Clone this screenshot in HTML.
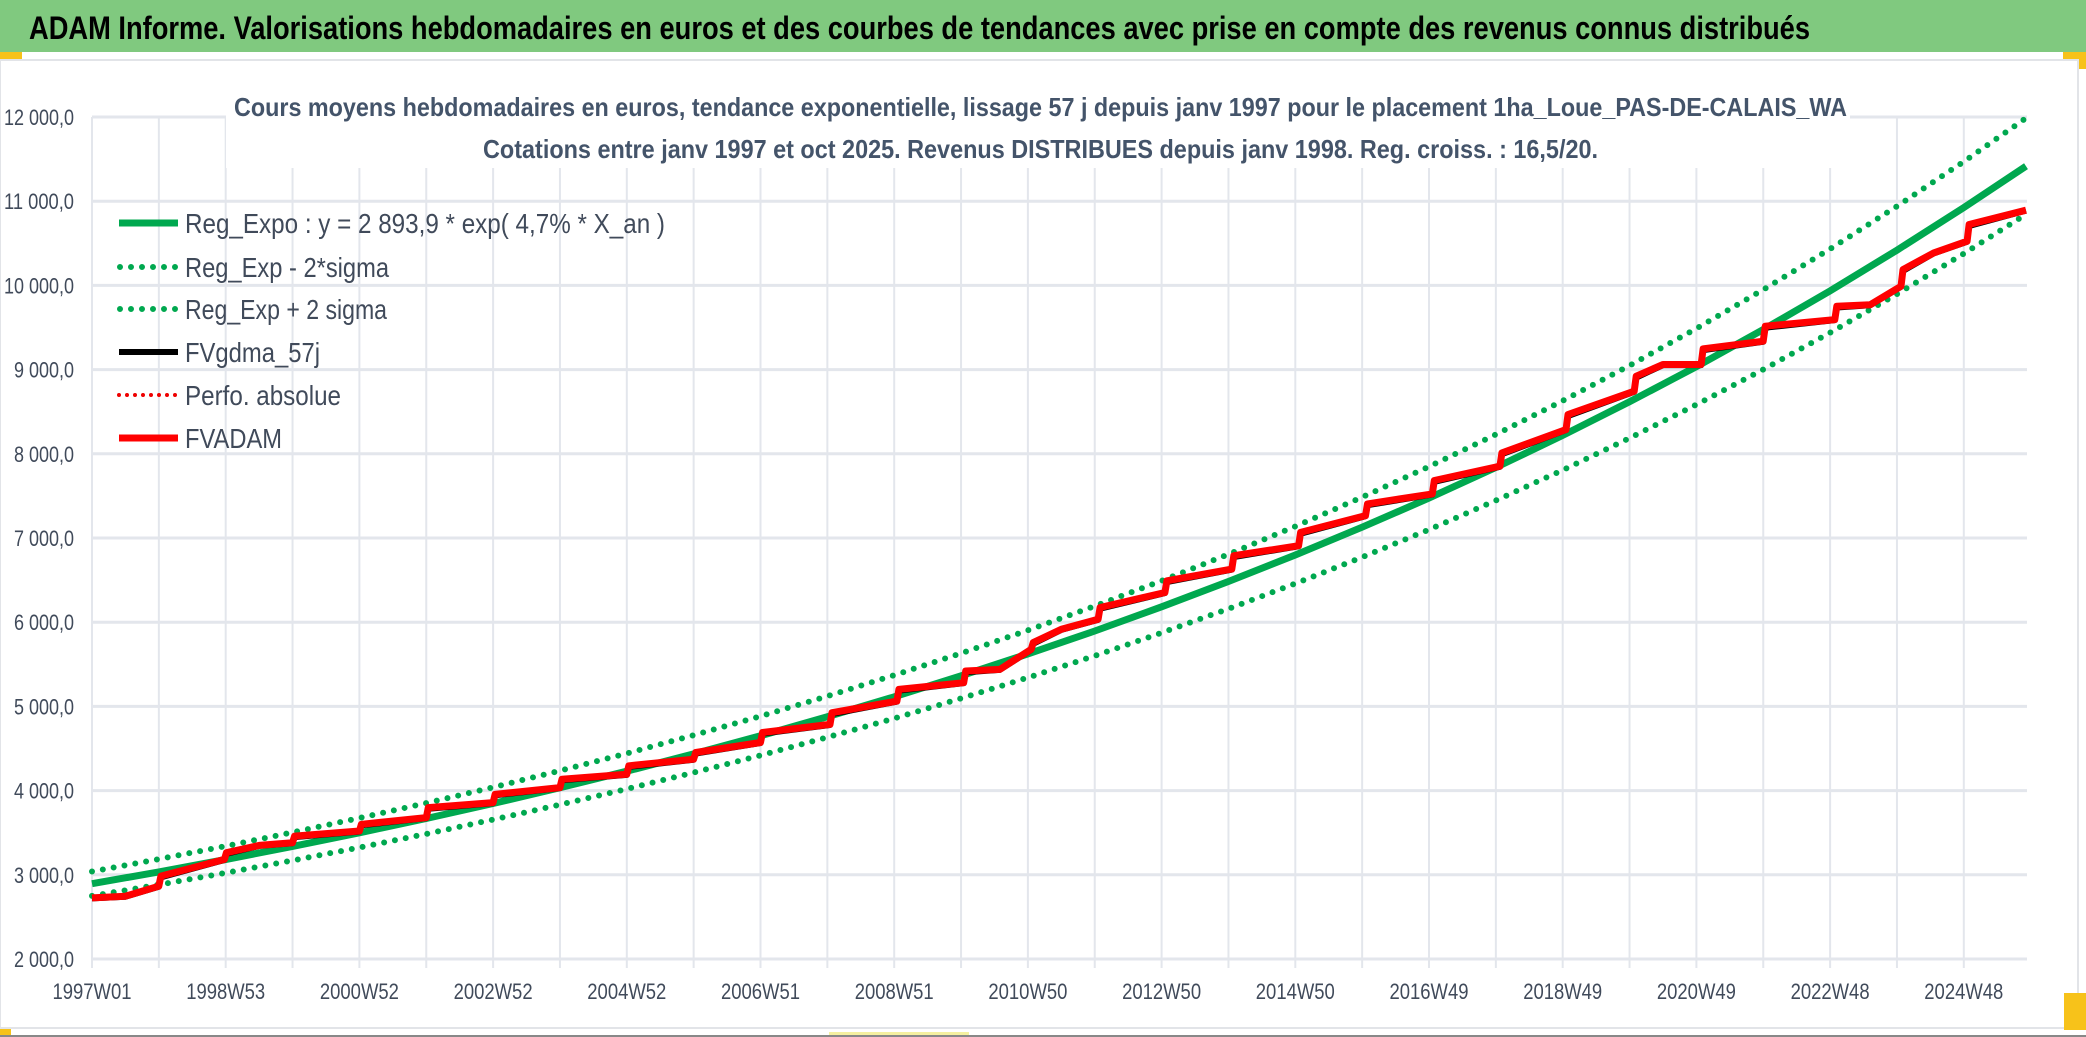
<!DOCTYPE html>
<html><head><meta charset="utf-8"><style>
html,body{margin:0;padding:0;background:#fff;}
svg{display:block;}
text{font-family:"Liberation Sans",sans-serif;}
</style></head><body>
<svg id="chart" width="2086" height="1037" viewBox="0 0 2086 1037" xmlns="http://www.w3.org/2000/svg">
<rect x="0" y="0" width="2086" height="52" fill="#80c97f"/>
<text x="29" y="39" font-size="32" font-weight="bold" fill="#000" textLength="1781" lengthAdjust="spacingAndGlyphs">ADAM Informe. Valorisations hebdomadaires en euros et des courbes de tendances avec prise en compte des revenus connus distribués</text>
<rect x="0" y="52" width="22" height="8" fill="#f7c21a"/>
<rect x="2063" y="52" width="23" height="17" fill="#f7c21a"/>
<rect x="0" y="60" width="2078" height="968" fill="#fff" stroke="#e2e4e8" stroke-width="2"/>
<rect x="2064" y="993" width="22" height="37" fill="#f7c21a"/>
<rect x="0" y="1029" width="11" height="8" fill="#f7c21a"/>
<rect x="829" y="1032" width="140" height="5" fill="#f5f0a0"/>
<line x1="0" y1="1036" x2="2086" y2="1036" stroke="#888" stroke-width="2"/>
<g id="grid"></g>
<rect x="226" y="61" width="1624" height="107" fill="#fff"/>
<text x="234" y="116" font-size="26" font-weight="bold" fill="#44546a" textLength="1613" lengthAdjust="spacingAndGlyphs">Cours moyens hebdomadaires en euros, tendance exponentielle, lissage 57 j depuis janv 1997 pour le placement 1ha_Loue_PAS-DE-CALAIS_WA</text>
<text x="483" y="158" font-size="26" font-weight="bold" fill="#44546a" textLength="1115" lengthAdjust="spacingAndGlyphs">Cotations entre janv 1997 et oct 2025. Revenus DISTRIBUES depuis janv 1998. Reg. croiss. : 16,5/20.</text>
<g id="axes"></g>
<g id="series"></g>
<g id="legend">
 <line x1="119" y1="223" x2="178" y2="223" stroke="#00a84f" stroke-width="7"/>
 <text x="185" y="233" font-size="28" fill="#404a5a" textLength="480" lengthAdjust="spacingAndGlyphs">Reg_Expo : y = 2 893,9 * exp( 4,7% *  X_an )</text>
 <line x1="120" y1="267" x2="178" y2="267" stroke="#00a84f" stroke-width="6" stroke-linecap="round" stroke-dasharray="0 11"/>
 <text x="185" y="277" font-size="28" fill="#404a5a" textLength="204" lengthAdjust="spacingAndGlyphs">Reg_Exp - 2*sigma</text>
 <line x1="120" y1="309" x2="178" y2="309" stroke="#00a84f" stroke-width="6" stroke-linecap="round" stroke-dasharray="0 11"/>
 <text x="185" y="319" font-size="28" fill="#404a5a" textLength="202" lengthAdjust="spacingAndGlyphs">Reg_Exp + 2 sigma</text>
 <line x1="119" y1="352" x2="178" y2="352" stroke="#000" stroke-width="6"/>
 <text x="185" y="362" font-size="28" fill="#404a5a" textLength="135" lengthAdjust="spacingAndGlyphs">FVgdma_57j</text>
 <line x1="119" y1="395" x2="178" y2="395" stroke="#e00" stroke-width="4" stroke-linecap="round" stroke-dasharray="0 8"/>
 <text x="185" y="405" font-size="28" fill="#404a5a" textLength="156" lengthAdjust="spacingAndGlyphs">Perfo. absolue</text>
 <line x1="119" y1="438" x2="178" y2="438" stroke="#f00" stroke-width="7"/>
 <text x="185" y="448" font-size="28" fill="#404a5a" textLength="97" lengthAdjust="spacingAndGlyphs">FVADAM</text>
</g>
</svg>
<script>
const yTicks = [2000,3000,4000,5000,6000,7000,8000,9000,10000,11000,12000];
const yTickLabels = ["2 000,0","3 000,0","4 000,0","5 000,0","6 000,0","7 000,0","8 000,0","9 000,0","10 000,0","11 000,0","12 000,0"];
const xTickLabels = ["1997W01","1998W53","2000W52","2002W52","2004W52","2006W51","2008W51","2010W50","2012W50","2014W50","2016W49","2018W49","2020W49","2022W48","2024W48"];
const regYears = [1997,1998,1999,2000,2001,2002,2003,2004,2005,2006,2007,2008,2009,2010,2011,2012,2013,2014,2015,2016,2017,2018,2019,2020,2021,2022,2023,2024,2025,2025.93];
const regExpo = [2894,3035,3182,3337,3499,3669,3847,4034,4230,4436,4651,4877,5114,5363,5623,5896,6183,6483,6798,7128,7474,7837,8218,8617,9036,9475,9935,10418,10924,11416];
const regMinus = [2749,2883,3023,3170,3324,3486,3655,3832,4019,4214,4418,4633,4858,5095,5342,5601,5874,6159,6458,6772,7100,7445,7807,8186,8584,9001,9438,9897,10378,10845];
const regPlus = [3039,3187,3341,3504,3674,3852,4039,4236,4442,4658,4884,5121,5370,5631,5904,6191,6492,6807,7138,7484,7848,8229,8629,9048,9488,9949,10432,10939,11470,11987];
const fvYears = [1997.0,1997.5,1998.0,1998.03,1998.98,1999.01,1999.5,2000.0,2000.03,2001.0,2001.03,2002.0,2002.03,2003.0,2003.03,2004.0,2004.03,2005.0,2005.03,2006.0,2006.03,2007.0,2007.03,2008.04,2008.07,2009.04,2009.07,2010.04,2010.07,2010.58,2011.05,2011.08,2011.5,2012.05,2012.08,2013.05,2013.08,2014.05,2014.08,2015.05,2015.08,2016.05,2016.08,2017.05,2017.08,2018.06,2018.09,2019.05,2019.08,2020.07,2020.1,2020.5,2021.07,2021.1,2022.0,2022.03,2023.07,2023.1,2023.6,2024.06,2024.09,2024.55,2025.05,2025.08,2025.93];
const fvadam = [2726,2746,2865,2984,3183,3262,3349,3381,3460,3520,3600,3679,3798,3857,3956,4036,4135,4194,4294,4373,4452,4571,4690,4786,4925,5063,5202,5282,5421,5440,5678,5758,5916,6036,6175,6353,6492,6631,6790,6909,7067,7266,7405,7524,7683,7853,8011,8288,8466,8743,8922,9060,9060,9246,9337,9515,9594,9753,9771,9990,10188,10386,10525,10723,10893];
const fvgdma = [2720,2740,2858,2970,3176,3250,3343,3375,3448,3513,3588,3672,3785,3850,3944,4029,4122,4187,4282,4366,4440,4564,4677,4779,4910,5056,5188,5275,5406,5433,5670,5744,5909,6029,6160,6346,6477,6624,6774,6902,7051,7259,7389,7517,7667,7846,7995,8281,8449,8736,8905,9053,9053,9230,9330,9498,9587,9737,9764,9983,10171,10380,10518,10706,10888];

const NS = "http://www.w3.org/2000/svg";
const X0 = 92, PX_PER_YEAR = 66.85, Y0 = 959, PX_PER_1000 = 84.2, XR = 2027;
function xs(year){ return X0 + (year - 1997) * PX_PER_YEAR; }
function ys(v){ return Y0 - (v - 2000) / 1000 * PX_PER_1000; }
function mk(tag, attrs, parent){ const e = document.createElementNS(NS, tag); for (const k in attrs) e.setAttribute(k, attrs[k]); parent.appendChild(e); return e; }

const grid = document.getElementById('grid');
for (let k = 0; k <= 28; k++) {
  const x = xs(1997 + k);
  const l = mk('line', {x1:x, y1:ys(12000), x2:x, y2:Y0 + 9, stroke:'#e3e6ec', 'stroke-width':2}, grid);
  
  
}
yTicks.forEach(v => {
  const l = mk('line', {x1:X0, y1:ys(v), x2:XR, y2:ys(v), stroke:'#e3e6ec', 'stroke-width':3}, grid);
  
  
});

const axes = document.getElementById('axes');
yTicks.forEach((v, i) => {
  const lab = yTickLabels[i];
  const t = mk('text', {x:74, y:ys(v) + 8, 'font-size':22, fill:'#404a5a', 'text-anchor':'end', textLength: lab.length > 7 ? 70 : 60, lengthAdjust:'spacingAndGlyphs'}, axes);
  t.textContent = lab;
  
  
});
xTickLabels.forEach((lab, i) => {
  const t = mk('text', {x:xs(1997 + 2 * i), y:999, 'font-size':22, fill:'#404a5a', 'text-anchor':'middle', textLength:79, lengthAdjust:'spacingAndGlyphs'}, axes);
  t.textContent = lab;
  
  
});

const series = document.getElementById('series');
function path(xsArr, vals){ return vals.map((v, i) => (i ? 'L' : 'M') + xs(xsArr[i]).toFixed(1) + ' ' + ys(v).toFixed(1)).join(' '); }
const pm = mk('path', {d:path(regYears, regMinus), fill:'none', stroke:'#00a84f', 'stroke-width':6, 'stroke-linecap':'round', 'stroke-dasharray':'0 11'}, series);


const pp = mk('path', {d:path(regYears, regPlus), fill:'none', stroke:'#00a84f', 'stroke-width':6, 'stroke-linecap':'round', 'stroke-dasharray':'0 11'}, series);


const pr = mk('path', {d:path(regYears, regExpo), fill:'none', stroke:'#00a84f', 'stroke-width':7}, series);


const pg = mk('path', {d:path(fvYears, fvgdma), fill:'none', stroke:'#000', 'stroke-width':6, 'stroke-linejoin':'round'}, series);


const pa = mk('path', {d:path(fvYears, fvadam), fill:'none', stroke:'#f00', 'stroke-width':7, 'stroke-linejoin':'round'}, series);


</script>
</body></html>
